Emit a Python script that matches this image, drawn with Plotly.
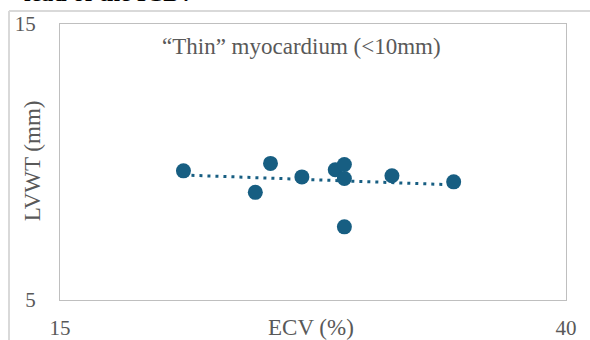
import numpy as np
import plotly.graph_objects as go

# Data
ecv = [21.1, 24.65, 25.4, 26.95, 28.6, 29.05, 29.05, 29.05, 31.4, 34.45]
lvwt = [9.68, 8.9, 9.95, 9.46, 9.72, 9.91, 9.4, 7.65, 9.5, 9.28]

x_ticks = [15, 40]
y_ticks = [5, 15]

color = "#175E82"
gray = "#595959"
font_family = "Liberation Serif"

slope, intercept = np.polyfit(ecv, lvwt, 1)
tx = np.array([min(ecv), max(ecv)])
ty = slope * tx + intercept

fig = go.Figure()
fig.add_trace(go.Scatter(x=tx, y=ty, mode="lines",
                         line=dict(color=color, width=3, dash="3px,5px"),
                         hoverinfo="skip", showlegend=False))
fig.add_trace(go.Scatter(x=ecv, y=lvwt, mode="markers",
                         marker=dict(color=color, size=15, line=dict(width=0)),
                         showlegend=False))

fig.update_layout(
    width=590, height=340,
    margin=dict(l=60, r=24, t=24, b=40, autoexpand=False),
    paper_bgcolor="white", plot_bgcolor="white",
    font=dict(family=font_family, color=gray, size=21),
    xaxis=dict(range=[15, 40], tickvals=x_ticks, showgrid=False, zeroline=False,
               showline=True, linecolor="#BFBFBF", linewidth=1, mirror=True,
               ticks="outside", ticklen=9, tickcolor="rgba(0,0,0,0)", automargin=False,
               tickfont=dict(size=21, color=gray, family=font_family)),
    yaxis=dict(range=[5, 15], tickvals=y_ticks, showgrid=False, zeroline=False,
               showline=True, linecolor="#BFBFBF", linewidth=1, mirror=True,
               ticks="outside", ticklen=19, tickcolor="rgba(0,0,0,0)", automargin=False,
               tickfont=dict(size=21, color=gray, family=font_family)),
    shapes=[
        dict(type="line", xref="paper", yref="paper", x0=-0.1008, x1=-0.1008,
             y0=1.047, y1=-0.2, line=dict(color="#D9D9D9", width=2)),
        dict(type="line", xref="paper", yref="paper", x0=-0.1008, x1=1.1,
             y0=1.047, y1=1.047, line=dict(color="#D9D9D9", width=2)),
    ],
    annotations=[
        dict(text="“Thin” myocardium (<10mm)", xref="paper", yref="paper",
             x=0.478, y=0.92, showarrow=False, xanchor="center", yanchor="middle",
             font=dict(size=23, color=gray, family=font_family)),
        dict(text="ECV (%)", xref="paper", yref="paper", x=0.497, y=-0.101,
             showarrow=False, xanchor="center", yanchor="middle",
             font=dict(size=23, color=gray, family=font_family)),
        dict(text="LVWT (mm)", xref="paper", yref="paper", x=-0.054, y=0.505,
             showarrow=False, xanchor="center", yanchor="middle", textangle=-90,
             font=dict(size=23, color=gray, family=font_family)),
        dict(text="<b>lead of the ICD?</b>", xref="paper", yref="paper",
             x=0.267, y=1.057, showarrow=False, xanchor="right", yanchor="bottom",
             font=dict(size=24, color="black", family=font_family)),
    ],
)

fig.write_html("out.html", config={"displayModeBar": False},
               post_script="document.body.style.margin='0';document.body.style.overflow='hidden';")
